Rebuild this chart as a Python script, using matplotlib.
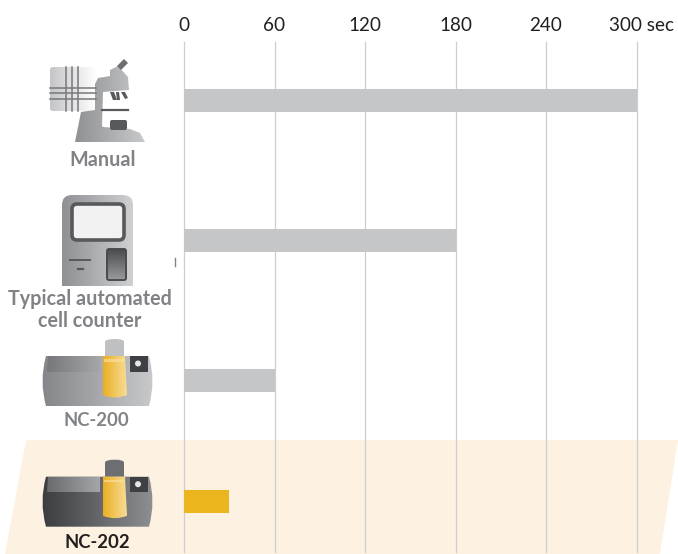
import numpy as np
import matplotlib
matplotlib.use("Agg")
import matplotlib.pyplot as plt
from matplotlib.patches import Polygon, FancyBboxPatch, Circle, Rectangle
from matplotlib.path import Path
from matplotlib.patches import PathPatch
from matplotlib.colors import LinearSegmentedColormap
from matplotlib.transforms import ScaledTranslation

categories = ["Manual", "Typical automated\ncell counter", "NC-200", "NC-202"]
times_sec = [300, 180, 60, 30]
bar_colors = ["#C5C6C8", "#C5C6C8", "#C5C6C8", "#EBB51E"]
tick_values = [0, 60, 120, 180, 240, 300]
tick_labels = ["0", "60", "120", "180", "240", "300 sec"]

plt.rcParams["font.family"] = ["Lato", "DejaVu Sans"]
W, H = 678, 554
fig = plt.figure(figsize=(W / 100, H / 100), dpi=100)


def pixel_axes(z):
    a = fig.add_axes([0, 0, 1, 1], zorder=z)
    a.set_xlim(0, W)
    a.set_ylim(H, 0)
    a.axis("off")
    a.patch.set_alpha(0)
    return a


bg = pixel_axes(0)
bg.add_patch(Polygon([(26, 440), (678, 440), (660, 554), (5, 554)], closed=True,
                     fc="#FDF2E2", ec="none"))

top, bottom = 42, 552
x0, x1 = 184, 636.5
ax = fig.add_axes([x0 / W, 1 - bottom / H, (x1 - x0) / W, (bottom - top) / H], zorder=1)
ax.patch.set_alpha(0)
ax.set_xlim(0, 300)
ax.set_ylim(bottom, top)
rows = [100, 240.5, 380.5, 501.5]
ax.barh(rows, times_sec, height=23, color=bar_colors, zorder=3, linewidth=0)
ax.xaxis.tick_top()
ax.set_xticks(tick_values)
ax.set_xticklabels(tick_labels, fontsize=13.6, color="#231F20")
ax.tick_params(axis="x", length=0, pad=6)
ax.set_yticks([])
ax.grid(axis="x", color="#CDCECF", linewidth=0.9, zorder=1)
for gl in ax.get_xgridlines():
    gl.set_clip_on(False)
for s in ax.spines.values():
    s.set_visible(False)
lab = ax.get_xticklabels()[-1]
lab.set_transform(lab.get_transform() + ScaledTranslation(5 / 100, 0, fig.dpi_scale_trans))

ic = pixel_axes(2)


def gradient(patch, c0, c1, extent, vertical=False):
    ic.add_patch(patch)
    patch.set_facecolor("none")
    patch.set_edgecolor("none")
    cmap = LinearSegmentedColormap.from_list("g", [c0, c1])
    g = np.linspace(0, 1, 128)
    g = g.reshape(-1, 1) if vertical else g.reshape(1, -1)
    im = ic.imshow(g, cmap=cmap, extent=extent, aspect="auto", zorder=2,
                   origin="upper", interpolation="bilinear")
    im.set_clip_path(patch)


def rbox(x, y, w, h, r):
    return FancyBboxPatch((x, y), w, h, boxstyle=f"round,pad=0,rounding_size={r}")


def poly(pts, **kw):
    kw.setdefault("zorder", 3)
    kw.setdefault("ec", "none")
    ic.add_patch(Polygon(pts, closed=True, **kw))


# Microscope icon
gradient(rbox(50, 67, 46, 44, 3), "#C4C5C7", "#FFFFFF", (50, 96, 111, 67))
for xv in (66, 72, 78):
    ic.plot([xv, xv], [67, 111], color="#77787B", lw=1.1, zorder=3)
for yv in (88, 93, 99):
    ic.plot([50, 96], [yv, yv], color="#77787B", lw=1.1, zorder=3)
body = [(75, 142), (81, 112), (95, 110), (95, 84), (98, 78), (110, 76), (110, 70),
        (118, 66), (128, 77), (129, 90), (103, 92), (102, 126), (103, 127),
        (130, 129), (140, 133), (145, 142)]
gradient(Polygon(body, closed=True), "#909194", "#C8C9CB", (75, 145, 142, 66))
poly([(117, 66), (124, 59), (128, 63), (121, 70)], fc="#6D6E71")
poly([(110, 92), (114, 92), (117, 100), (113, 100)], fc="#58595B")
poly([(116, 92), (119, 92), (120, 100), (117, 100)], fc="#58595B")
poly([(121, 92), (125, 92), (128, 98), (125, 99)], fc="#58595B")
ic.plot([102, 128], [109.5, 109.5], color="#58595B", lw=1.6, zorder=3)
ic.add_patch(rbox(110, 120, 17, 10, 2))
ic.patches[-1].set(fc="#58595B", ec="none", zorder=3)

# Typical counter icon
counter = Path([(62, 286), (62, 205), (62, 195), (72, 195), (123, 195), (133, 195),
                (133, 205), (133, 286), (62, 286)],
               [Path.MOVETO, Path.LINETO, Path.CURVE3, Path.CURVE3, Path.LINETO,
                Path.CURVE3, Path.CURVE3, Path.LINETO, Path.CLOSEPOLY])
gradient(PathPatch(counter), "#8F9093", "#CFD0D2", (62, 133, 286, 195))
p = rbox(72, 204, 52, 36, 5)
ic.add_patch(p)
p.set(fc="#F2F2F3", ec="#58595B", lw=2.6, zorder=3)
ic.plot([70, 90], [259.5, 259.5], color="#58595B", lw=1.4, zorder=3)
ic.plot([77.5, 82.5], [269, 269], color="#58595B", lw=1.6, zorder=3)
p = rbox(107, 249, 19, 31, 2)
gradient(p, "#4A4B4D", "#9A9B9E", (107, 126, 280, 249), vertical=True)
p = rbox(107, 249, 19, 31, 2)
ic.add_patch(p)
p.set(fc="none", ec="#4A4B4D", lw=1.4, zorder=4)
ic.plot([175, 175], [258, 266], color="#808285", lw=1, zorder=3)


def nc_device(dy, c0, c1, rec0, rec1, cap):
    t, b = 356 + dy, 406 + dy
    m = (t + b) / 2
    verts = [(46, t), (149, t), (156, m), (149, b), (46, b), (39, m), (46, t), (46, t)]
    codes = [Path.MOVETO, Path.LINETO, Path.CURVE3, Path.CURVE3, Path.LINETO,
             Path.CURVE3, Path.CURVE3, Path.CLOSEPOLY]
    gradient(PathPatch(Path(verts, codes)), c0, c1, (42, 153, b, t))
    gradient(Polygon([(48, t), (100, t), (100, t + 15.5), (47, t + 15.5)], closed=True),
             rec0, rec1, (47, 100, t + 16, t))
    capp = Path([(105, t), (105, t - 14), (105, t - 17), (115, t - 17), (124, t - 17),
                 (124, t - 14), (124, t), (105, t)],
                [Path.MOVETO, Path.LINETO, Path.CURVE3, Path.CURVE3, Path.CURVE3,
                 Path.CURVE3, Path.LINETO, Path.CLOSEPOLY])
    ic.add_patch(PathPatch(capp, fc=cap, ec="none", zorder=3))
    vial = Path([(103, t), (125, t), (127, t + 39), (115, t + 44), (102.5, t + 39), (103, t)],
                [Path.MOVETO, Path.LINETO, Path.LINETO, Path.CURVE3, Path.CURVE3, Path.CLOSEPOLY])
    patch = PathPatch(vial)
    gradient(patch, "#E9B022", "#F8DC96", (103, 127, t + 44, t))
    ic.get_images()[-1].set_zorder(4)
    ic.add_patch(Rectangle((104, t + 3), 21, 2.5, fc="#FBE3A6", ec="none", alpha=0.6, zorder=5))
    ic.add_patch(Rectangle((129.5, t), 18.5, 15.5, fc="#3F4043", ec="none", zorder=3))
    ic.add_patch(Circle((138, t + 7.5), 3, fc="#E6E7E8", ec="none", zorder=4))


nc_device(0, "#85868A", "#C8C9CB", "#77787B", "#A5A6A8", "#BFC0C2")
nc_device(120.7, "#3C3D40", "#8E8F92", "#6A6B6E", "#A5A6A8", "#6D6E71")

# Category labels
label_pos = [(103, 160), (89.5, 310), (96.5, 421), (97, 542)]
label_colors = ["#808285", "#808285", "#808285", "#231F20"]
label_sizes = [14.2, 14.2, 13.3, 13.3]
for name, (lx, ly), c, fs in zip(categories, label_pos, label_colors, label_sizes):
    ic.text(lx, ly, name, ha="center", va="center", fontsize=fs, fontweight="bold",
            color=c, linespacing=1.1, zorder=5)
ic.set_xlim(0, W)
ic.set_ylim(H, 0)

fig.savefig("out.png", dpi=100)
